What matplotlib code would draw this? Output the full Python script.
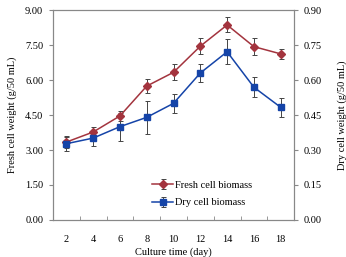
import matplotlib
matplotlib.use('Agg')
import matplotlib.pyplot as plt
import numpy as np

days = [2, 4, 6, 8, 10, 12, 14, 16, 18]
fresh = [3.34, 3.77, 4.46, 5.74, 6.33, 7.45, 8.36, 7.43, 7.12]
fresh_err = [0.25, 0.22, 0.2, 0.3, 0.35, 0.33, 0.32, 0.36, 0.21]
dry = [0.327, 0.351, 0.400, 0.440, 0.500, 0.630, 0.721, 0.569, 0.483]
dry_err = [0.03, 0.035, 0.06, 0.07, 0.04, 0.038, 0.053, 0.043, 0.04]

plt.rcParams['font.family'] = ['Liberation Serif', 'DejaVu Serif']
plt.rcParams['font.size'] = 7.5

red = '#A3343E'
blue = '#1544A8'
grey = '#888888'

fig = plt.figure(figsize=(3.46, 2.57), dpi=100)
ax = fig.add_axes([0.153, 0.144, 0.697, 0.817])
ax2 = ax.twinx()

# fresh weights on the left axis, dry weights scaled by 10 so they share the frame
ax.errorbar(days, fresh, yerr=fresh_err, color=red, marker='D', markersize=3.8,
            linewidth=1.1, ecolor='#444444', elinewidth=0.7, capsize=1.8,
            capthick=0.7, label='Fresh cell biomass', zorder=3)
ax.errorbar(days, [d * 10 for d in dry], yerr=[e * 10 for e in dry_err],
            color=blue, marker='s', markersize=4.5, linewidth=1.1,
            ecolor='#444444', elinewidth=0.7, capsize=1.8, capthick=0.7,
            label='Dry cell biomass', zorder=3)

ax.set_xlim(1, 19)
ax.set_ylim(0, 9)
ax2.set_ylim(0, 0.9)

ax.set_xticks(days)
ax.set_xticks(np.arange(1, 20, 2), minor=True)
ax.tick_params(axis='x', which='major', length=0, pad=11)
ax.tick_params(axis='x', which='minor', length=3, direction='in', color=grey)
ax.set_yticks(np.arange(0, 9.01, 1.5))
ax.set_yticklabels(['%.2f' % v for v in np.arange(0, 9.01, 1.5)])
ax.tick_params(axis='y', length=3, direction='out', color=grey, pad=4)
ax2.set_yticks(np.arange(0, 0.901, 0.15))
ax2.set_yticklabels(['%.2f' % v for v in np.arange(0, 0.901, 0.15)])
ax2.tick_params(axis='y', length=3, direction='out', color=grey, pad=4)

for a in (ax, ax2):
    for s in a.spines.values():
        s.set_color(grey)
        s.set_linewidth(0.8)

ax.set_xlabel('Culture time (day)', labelpad=2)
ax.set_ylabel('Fresh cell weight (g/50 mL)', labelpad=6)
ax2.set_ylabel('Dry cell weight (g/50 mL)', labelpad=11)

legend = ax.legend(loc='lower right', bbox_to_anchor=(0.865, 0.015), frameon=False,
                   handlelength=2.0, handletextpad=0.2, labelspacing=0.8)

plt.savefig('out.png', dpi=100)
